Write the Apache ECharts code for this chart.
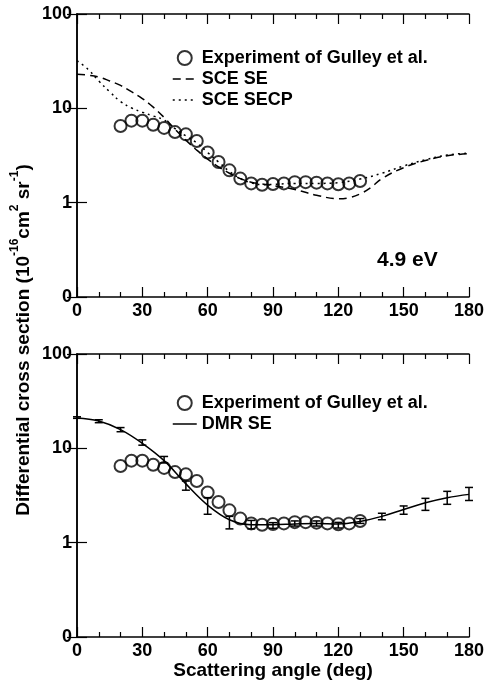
<!DOCTYPE html>
<html>
<head>
<meta charset="utf-8">
<script src="https://cdn.jsdelivr.net/npm/echarts@6/dist/echarts.min.js"></script>
<style>
  html, body { margin: 0; padding: 0; background: #fff; }
  #chart { width: 487px; height: 683px; }
</style>
</head>
<body>
<div id="chart"></div>
<script>
// experiment of Gulley et al. (same points in both panels)
const expAngles = [20, 25, 30, 35, 40, 45, 50, 55, 60, 65, 70, 75, 80, 85, 90, 95, 100, 105, 110, 115, 120, 125, 130];
const expValues = [6.5, 7.4, 7.4, 6.7, 6.2, 5.6, 5.3, 4.5, 3.4, 2.7, 2.2, 1.8, 1.6, 1.55, 1.58, 1.6, 1.65, 1.65, 1.63, 1.6, 1.57, 1.6, 1.7];

// SCE SE (dashed, top)
const sceSeAngles = [0, 5, 10, 15, 20, 25, 30, 35, 40, 45, 50, 55, 60, 65, 70, 75, 80, 90, 100, 110, 120, 125, 130, 135, 140, 150, 160, 170, 180];
const sceSeValues = [23, 22.5, 21.5, 19.5, 17.5, 15, 12.7, 10.3, 8.0, 6.0, 4.6, 3.6, 2.9, 2.4, 2.05, 1.8, 1.65, 1.52, 1.38, 1.2, 1.1, 1.13, 1.24, 1.45, 1.8, 2.35, 2.8, 3.15, 3.3];

// SCE SECP (dotted, top)
const secpAngles = [0, 5, 10, 15, 20, 25, 30, 35, 40, 45, 50, 55, 60, 65, 70, 75, 80, 85, 90, 100, 110, 120, 130, 140, 150, 160, 170, 180];
const secpValues = [32, 26, 19.5, 15, 11.8, 10.1, 9.1, 8.3, 7.5, 6.1, 5.1, 4.3, 3.4, 2.7, 2.15, 1.8, 1.62, 1.55, 1.56, 1.6, 1.6, 1.63, 1.78, 2.05, 2.45, 2.85, 3.2, 3.35];

// DMR SE (solid, bottom) and its error bars
const dmrAngles = [0, 10, 20, 30, 40, 50, 60, 70, 80, 90, 100, 110, 120, 130, 140, 150, 160, 170, 180];
const dmrValues = [21, 19.5, 15.8, 11.3, 7.4, 4.2, 2.5, 1.75, 1.55, 1.55, 1.58, 1.6, 1.58, 1.68, 1.9, 2.25, 2.65, 3.0, 3.25];
const errLow  = [20.8, 18.7, 15.0, 10.8, 7.0, 3.6, 2.0, 1.4, 1.4, 1.42, 1.5, 1.5, 1.43, 1.6, 1.75, 2.0, 2.2, 2.55, 2.8];
const errHigh = [21.6, 20.1, 16.6, 12.3, 8.2, 4.5, 3.0, 1.9, 1.72, 1.63, 1.7, 1.7, 1.64, 1.8, 2.05, 2.45, 2.95, 3.5, 3.85];

const yTicks = [0.1, 1, 10, 100];
const yTickLabels = ["0", "1", "10", "100"];

const FONT = "Liberation Sans, Arial, sans-serif";
const EXP = "Experiment of Gulley et al.";

const zip = (a, b) => a.map((v, i) => [v, b[i]]);

function xAxisFor(gridIndex, position) {
  const bottom = position === "bottom";
  return {
    type: "value",
    gridIndex: gridIndex,
    position: position,
    min: 0,
    max: 180,
    interval: 30,
    name: bottom && gridIndex === 1 ? "Scattering angle (deg)" : "",
    nameLocation: "middle",
    nameGap: 24,
    nameTextStyle: { fontFamily: FONT, fontWeight: "bold", fontSize: 19, color: "#000" },
    axisLine: { show: true, onZero: false, lineStyle: { color: "#000", width: 1.5 } },
    axisTick: { show: true, inside: true, length: 10, lineStyle: { color: "#000", width: 1.2 } },
    minorTick: { show: true, splitNumber: 3, length: 5, lineStyle: { color: "#000", width: 1.2 } },
    axisLabel: {
      show: bottom,
      margin: 5,
      fontFamily: FONT,
      fontWeight: "bold",
      fontSize: 18,
      color: "#000",
    },
    splitLine: { show: false },
  };
}

function yAxisFor(gridIndex, position) {
  const left = position === "left";
  return {
    type: "log",
    logBase: 10,
    gridIndex: gridIndex,
    position: position,
    min: 0.1,
    max: 100,
    axisLine: { show: true, lineStyle: { color: "#000", width: 1.5 } },
    axisTick: { show: true, inside: true, length: 10, lineStyle: { color: "#000", width: 1.2 } },
    axisLabel: {
      show: left,
      margin: 5,
      fontFamily: FONT,
      fontWeight: "bold",
      fontSize: 18,
      color: "#000",
      formatter: (v) => {
        const i = yTicks.findIndex((t) => Math.abs(Math.log10(t) - Math.log10(v)) < 1e-6);
        return i >= 0 ? yTickLabels[i] : "";
      },
    },
    splitLine: { show: false },
  };
}

const legendText = { fontFamily: FONT, fontWeight: "bold", fontSize: 18, color: "#000" };
const expLegendItem = {
  name: EXP,
  icon: "circle",
  itemStyle: { color: "rgba(0,0,0,0)", borderColor: "#000", borderWidth: 2 },
};
const noSymbol = { color: "rgba(0,0,0,0)", borderWidth: 0, opacity: 0 };

const errorBars = dmrAngles.map((a, i) => [a, errLow[i], errHigh[i]]);

const chart = echarts.init(document.getElementById("chart"));
chart.setOption({
  animation: false,
  backgroundColor: "#fff",
  grid: [
    { left: 77, top: 14, width: 393, height: 283 },
    { left: 77, top: 354, width: 392, height: 283 },
  ],
  xAxis: [
    xAxisFor(0, "bottom"),
    xAxisFor(0, "top"),
    xAxisFor(1, "bottom"),
    xAxisFor(1, "top"),
  ],
  yAxis: [
    yAxisFor(0, "left"),
    yAxisFor(0, "right"),
    yAxisFor(1, "left"),
    yAxisFor(1, "right"),
  ],
  legend: [
    {
      orient: "vertical",
      left: 167,
      top: 44,
      itemWidth: 24,
      itemHeight: 14,
      itemGap: 3,
      textStyle: legendText,
      data: [
        expLegendItem,
        { name: "SCE SE", itemStyle: noSymbol, lineStyle: { type: [8, 5], width: 1.5, color: "#000" } },
        { name: "SCE SECP", itemStyle: noSymbol, lineStyle: { type: [2, 4], width: 1.5, color: "#000" } },
      ],
    },
    {
      orient: "vertical",
      left: 167,
      top: 389,
      itemWidth: 24,
      itemHeight: 14,
      itemGap: 3,
      textStyle: legendText,
      data: [
        expLegendItem,
        { name: "DMR SE", itemStyle: noSymbol, lineStyle: { type: "solid", width: 1.5, color: "#000" } },
      ],
    },
  ],
  graphic: [
    {
      type: "text",
      left: 377,
      top: 250,
      style: { text: "4.9 eV", fontFamily: FONT, fontWeight: "bold", fontSize: 21, fill: "#000" },
    },
    {
      type: "text",
      x: 21,
      y: 340,
      rotation: Math.PI / 2,
      style: {
        text: "{b|Differential cross section (10}{s|-16}{b|cm}{s|2}{b| sr}{s|-1}{b|)}",
        align: "center",
        verticalAlign: "middle",
        fill: "#000",
        rich: {
          b: { fontFamily: FONT, fontWeight: "bold", fontSize: 19, lineHeight: 24, verticalAlign: "bottom", fill: "#000" },
          s: { fontFamily: FONT, fontWeight: "bold", fontSize: 12, lineHeight: 24, verticalAlign: "top", fill: "#000" },
        },
      },
    },
  ],
  series: [
    {
      name: "SCE SE",
      type: "line",
      xAxisIndex: 0,
      yAxisIndex: 0,
      data: zip(sceSeAngles, sceSeValues),
      smooth: 0.4,
      symbol: "none",
      lineStyle: { color: "#000", width: 1.5, type: [8, 5] },
      itemStyle: { color: "#000" },
    },
    {
      name: "SCE SECP",
      type: "line",
      xAxisIndex: 0,
      yAxisIndex: 0,
      data: zip(secpAngles, secpValues),
      smooth: 0.4,
      symbol: "none",
      lineStyle: { color: "#000", width: 1.5, type: [2, 4] },
      itemStyle: { color: "#000" },
    },
    {
      name: EXP,
      type: "scatter",
      xAxisIndex: 0,
      yAxisIndex: 0,
      data: zip(expAngles, expValues),
      symbol: "circle",
      symbolSize: 12,
      itemStyle: { color: "rgba(0,0,0,0)", borderColor: "#000", borderWidth: 2 },
    },
    {
      name: "DMR SE",
      type: "line",
      xAxisIndex: 2,
      yAxisIndex: 2,
      data: zip(dmrAngles, dmrValues),
      smooth: 0.4,
      symbol: "none",
      lineStyle: { color: "#000", width: 1.5 },
      itemStyle: { color: "#000" },
    },
    {
      name: "DMR error",
      type: "custom",
      xAxisIndex: 2,
      yAxisIndex: 2,
      data: errorBars,
      encode: { x: 0, y: [1, 2] },
      renderItem: (params, api) => {
        const lo = api.coord([api.value(0), api.value(1)]);
        const hi = api.coord([api.value(0), api.value(2)]);
        const cap = 4;
        const st = { stroke: "#000", lineWidth: 1.5 };
        return {
          type: "group",
          children: [
            { type: "line", shape: { x1: lo[0], y1: lo[1], x2: hi[0], y2: hi[1] }, style: st },
            { type: "line", shape: { x1: lo[0] - cap, y1: lo[1], x2: lo[0] + cap, y2: lo[1] }, style: st },
            { type: "line", shape: { x1: hi[0] - cap, y1: hi[1], x2: hi[0] + cap, y2: hi[1] }, style: st },
          ],
        };
      },
    },
    {
      name: EXP,
      type: "scatter",
      xAxisIndex: 2,
      yAxisIndex: 2,
      data: zip(expAngles, expValues),
      symbol: "circle",
      symbolSize: 12,
      itemStyle: { color: "rgba(0,0,0,0)", borderColor: "#000", borderWidth: 2 },
    },
  ],
});
</script>
</body>
</html>
